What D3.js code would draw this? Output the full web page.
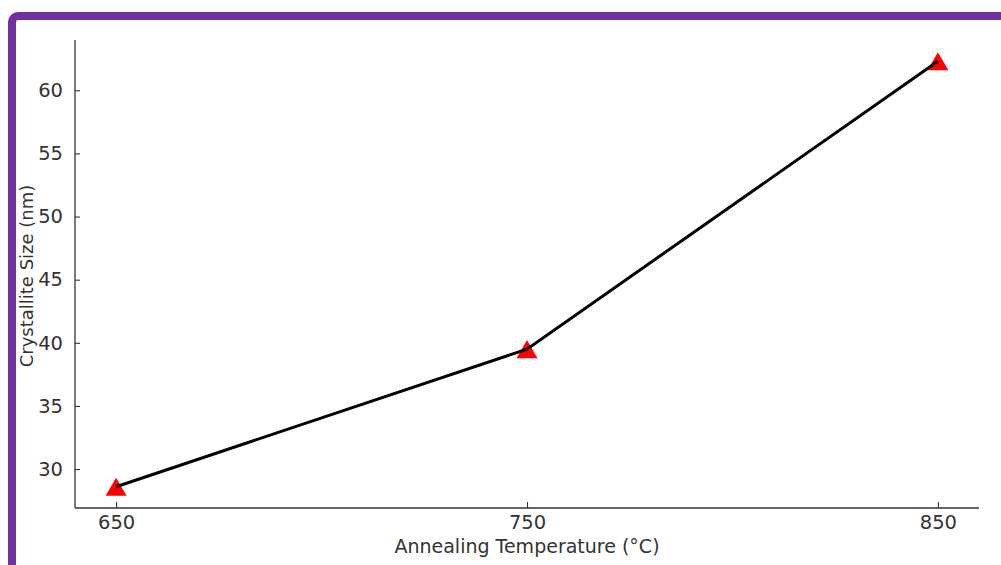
<html>
<title>Crystallite Size vs Annealing Temperature</title>
<script src="https://d3js.org/d3.v7.min.js"></script>
<style>
	body { margin: 0; background: white; font-family: "DejaVu Sans", sans-serif; }
</style>
<body>
<svg id="container" width="1001" height="565"></svg>
<script>
// data
const temperatures = [650, 750, 850];
const crystalliteSizes = [28.6, 39.5, 62.3];
const xTicks = [650, 750, 850];
const yTicks = [30, 35, 40, 45, 50, 55, 60];
const xLabel = "Annealing Temperature (°C)";
const yLabel = "Crystallite Size (nm)";

function draw() {
	var svg = d3.select("svg");

	// purple frame, runs off the right and bottom edges
	svg.append("rect")
		.attr("x", 12).attr("y", 16)
		.attr("width", 1100).attr("height", 700)
		.attr("rx", 6)
		.attr("fill", "none")
		.attr("stroke", "#7030a0")
		.attr("stroke-width", 8);

	var plotLeft = 75, plotRight = 979, plotTop = 40, plotBottom = 508;

	// matplotlib style 5% margins
	var xExt = d3.extent(temperatures), yExt = d3.extent(crystalliteSizes);
	var xPad = (xExt[1] - xExt[0]) * 0.05, yPad = (yExt[1] - yExt[0]) * 0.05;

	var x = d3.scaleLinear()
		.domain([xExt[0] - xPad, xExt[1] + xPad])
		.range([plotLeft, plotRight]);
	var y = d3.scaleLinear()
		.domain([yExt[0] - yPad, yExt[1] + yPad])
		.range([plotBottom, plotTop]);

	// axes, ticks pointing inward
	var yAxis = svg.append("g")
		.attr("transform", "translate(" + plotLeft + ",0)")
		.call(d3.axisLeft(y).tickValues(yTicks).tickSize(-5).tickPadding(12));
	var xAxis = svg.append("g")
		.attr("transform", "translate(0," + plotBottom + ")")
		.call(d3.axisBottom(x).tickValues(xTicks).tickSize(-6).tickPadding(7));

	[xAxis, yAxis].forEach(function(a) {
		a.select(".domain").attr("stroke", "#333").attr("stroke-width", 1.3);
		a.selectAll(".tick line").attr("stroke", "#333").attr("stroke-width", 1.1);
		a.selectAll(".tick text")
			.attr("font-family", "DejaVu Sans")
			.attr("font-size", 19.5)
			.attr("fill", "#333");
	});
	yAxis.select(".domain").attr("d", "M0," + plotBottom + "V" + plotTop);
	xAxis.select(".domain").attr("d", "M" + plotLeft + ",0H" + plotRight);

	// axis labels
	svg.append("text")
		.attr("x", (plotLeft + plotRight) / 2).attr("y", 553)
		.attr("text-anchor", "middle")
		.attr("font-size", 19).attr("fill", "#333")
		.text(xLabel);
	svg.append("text")
		.attr("transform", "translate(33,276) rotate(-90)")
		.attr("text-anchor", "middle")
		.attr("font-size", 18).attr("fill", "#333")
		.text(yLabel);

	var points = temperatures.map(function(t, i) { return [t, crystalliteSizes[i]]; });

	// markers first, line goes over them; shift so the triangle's box is centred on the point
	var markerSize = 190;
	var markerH = Math.sqrt(markerSize * 4 / Math.sqrt(3)) * Math.sqrt(3) / 2;
	svg.append("g").selectAll("path")
		.data(points)
		.enter()
		.append("path")
			.attr("d", d3.symbol().type(d3.symbolTriangle).size(markerSize))
			.attr("transform", function(d) { return "translate(" + x(d[0]) + "," + (y(d[1]) + markerH / 6) + ")"; })
			.attr("fill", "#ff0000");

	svg.append("path")
		.datum(points)
		.attr("fill", "none")
		.attr("stroke", "black")
		.attr("stroke-width", 3)
		.attr("d", d3.line().x(function(d) { return x(d[0]); }).y(function(d) { return y(d[1]); }));
}
draw();
</script>
</body>
</html>
